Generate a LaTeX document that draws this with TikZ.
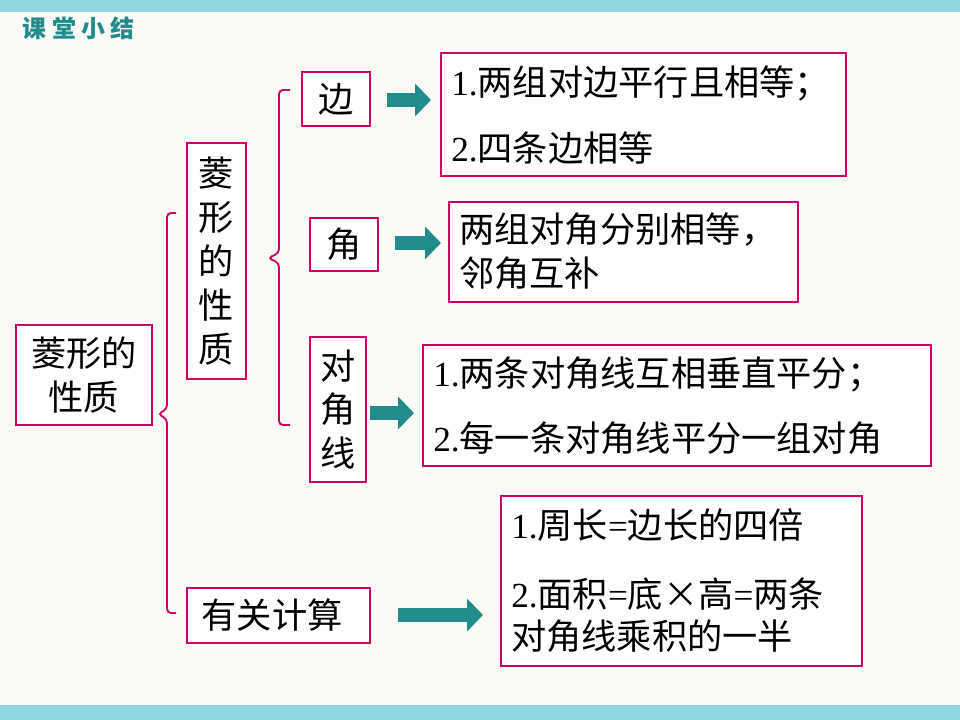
\documentclass[tikz,border=0pt]{standalone}
\usepackage{fontspec}
\setmainfont{Liberation Serif}
\newfontfamily\cjk{Noto Sans CJK SC}
\usetikzlibrary{arrows.meta}
\definecolor{rosered}{RGB}{204,0,102}
\definecolor{tealarrow}{RGB}{34,139,139}
\definecolor{bandblue}{RGB}{143,214,224}
\definecolor{paper}{RGB}{250,250,246}
\tikzset{
  pbox/.style={draw=rosered, line width=1.6pt, fill=white, inner sep=0pt},
  lbl/.style={font=\fontsize{26.5}{33}\selectfont\cjk, align=center},
  txt/.style={font=\fontsize{26.5}{33}\selectfont\cjk, anchor=west, inner sep=0pt},
  barrow/.style={tealarrow, line width=10pt, -{Triangle[length=12pt,width=24pt]}},
  brace/.style={rosered, line width=1.4pt, rounded corners=3pt}
}
\begin{document}
\begin{tikzpicture}[x=0.02645cm, y=-0.02645cm]
	
	% background
	\fill[paper] (0,0) rectangle (960,720);
	\fill[bandblue] (0,0) rectangle (960,12);
	\fill[bandblue] (0,705) rectangle (960,720);
	\node[anchor=west, text=tealarrow, font=\fontsize{18}{20}\selectfont\cjk\bfseries] (title) at (18,28) {课 堂 小 结};
	
	% boxes
	\draw[pbox] (16,325) rectangle (152,425);
	\node[lbl] (main) at (84,375) {菱形的\\性质};
	\draw[pbox] (187,143) rectangle (246,379);
	\node[lbl] (prop) at (216.5,261) {菱\\形\\的\\性\\质};
	\draw[pbox] (302,72) rectangle (370,126);
	\node[lbl] (bian) at (336,99) {边};
	\draw[pbox] (310,218) rectangle (378,271);
	\node[lbl] (jiao) at (344,244.5) {角};
	\draw[pbox] (310,337) rectangle (366,482);
	\node[lbl] (djx) at (338,409.5) {对\\角\\线};
	\draw[pbox] (187,588) rectangle (370,643);
	\node[lbl] (calc) at (272,615.5) {有关计算};
	
	\draw[pbox] (441,53) rectangle (846,176);
	\node[txt] (b1) at (451,83) {{\rmfamily 1.}两组对边平行且相等；};
	\node[txt] (b2) at (451,148) {{\rmfamily 2.}四条边相等};
	\draw[pbox] (449,202) rectangle (798,302);
	\node[txt] (j1) at (459,230) {两组对角分别相等，};
	\node[txt] (j2) at (459,273) {邻角互补};
	\draw[pbox] (423,345) rectangle (931,466);
	\node[txt] (d1) at (433,374) {{\rmfamily 1.}两条对角线互相垂直平分；};
	\node[txt] (d2) at (433,438) {{\rmfamily 2.}每一条对角线平分一组对角};
	\draw[pbox] (501,496) rectangle (862,666);
	\node[txt] (c1) at (511,525) {{\rmfamily 1.}周长{\rmfamily =}边长的四倍};
	\node[txt] (c2) at (511,594) {{\rmfamily 2.}面积{\rmfamily =}底×高{\rmfamily =}两条};
	\node[txt] (c3) at (511,636) {对角线乘积的一半};
	
	% arrows
	\coordinate (a1s) at (387,100); \coordinate (a1e) at (431,100);
	\coordinate (a2s) at (395,243); \coordinate (a2e) at (441,243);
	\coordinate (a3s) at (370,413); \coordinate (a3e) at (414,413);
	\coordinate (a4s) at (398,615); \coordinate (a4e) at (483,615);
	\draw[barrow] (a1s) -- (a1e);
	\draw[barrow] (a2s) -- (a2e);
	\draw[barrow] (a3s) -- (a3e);
	\draw[barrow] (a4s) -- (a4e);
	
	% braces
	\draw[brace] (176,213) -- (167,213) -- (167,409) -- (158,414) -- (167,419) -- (167,613) -- (176,613);
	\draw[brace] (290,90) -- (279,90) -- (279,253) -- (268,258) -- (279,263) -- (279,425) -- (290,425);
	
\end{tikzpicture}
\end{document}
